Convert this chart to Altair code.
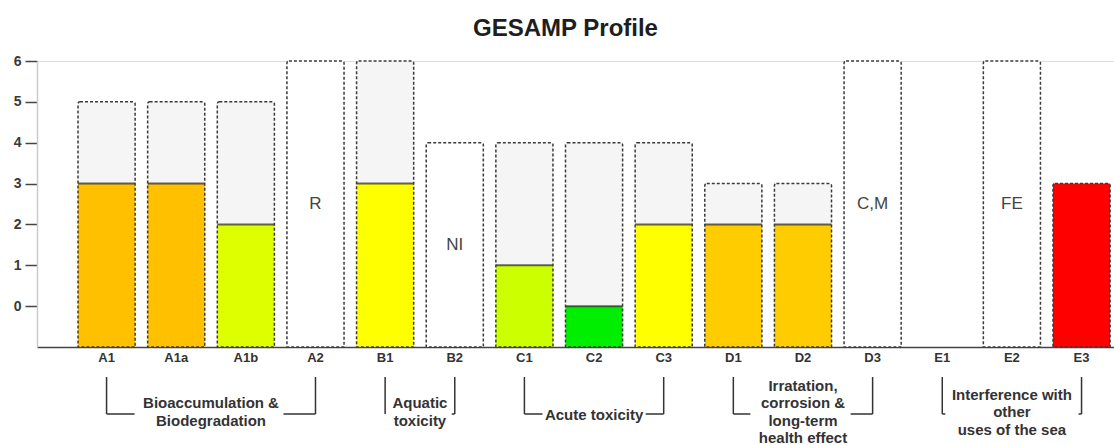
import altair as alt
import pandas as pd

# ---------------- data ----------------
categories = ["A1", "A1a", "A1b", "A2", "B1", "B2", "C1", "C2", "C3",
              "D1", "D2", "D3", "E1", "E2", "E3"]
max_scores = [5, 5, 5, 6, 6, 4, 4, 4, 4, 3, 3, 6, None, 6, 3]
scores = [3, 3, 2, None, 3, None, 1, 0, 2, 2, 2, None, None, None, 3]
bar_labels = ["", "", "", "R", "", "NI", "", "", "", "", "", "C,M", "", "FE", ""]
bar_colors = ["#FFC000", "#FFC000", "#DDFF00", "#FFFFFF", "#FFFF00", "#FFFFFF",
              "#CCFF00", "#00EE00", "#FFFF00", "#FFCC00", "#FFCC00", "#FFFFFF",
              "#FFFFFF", "#FFFFFF", "#FF0000"]
y_floor = -1
y_ticks = [0, 1, 2, 3, 4, 5, 6]

group_labels = ["Bioaccumulation &\nBiodegradation",
                "Aquatic\ntoxicity",
                "Acute toxicity",
                "Irratation,\ncorrosion &\nlong-term\nhealth effect",
                "Interference with\nother\nuses of the sea"]
group_first = ["A1", "B1", "C1", "D1", "E1"]
group_last = ["A2", "B2", "C3", "D3", "E3"]

# ---------------- style ----------------
W, H = 1077, 286
PAD_IN, PAD_OUT, ALIGN = 0.18, 0.3225, 0.913
STEP = W / (len(categories) - PAD_IN + 2 * PAD_OUT)
BANDW = STEP * (1 - PAD_IN)
hook_left = [28, 0, 18, 17, 3]
hook_right = [32, 3, 18, 22, 3]
INK = "#333333"
FONT = "Liberation Sans"
LINE_H = 17.5

df = pd.DataFrame({
    "cat": categories,
    "max": max_scores,
    "score": scores,
    "label": bar_labels,
    "color": bar_colors,
})
df["floor"] = y_floor
df["bg"] = ["#FFFFFF" if l else "#F5F5F5" for l in bar_labels]

xscale = alt.Scale(domain=categories, paddingInner=PAD_IN, paddingOuter=PAD_OUT, align=ALIGN)
yscale = alt.Scale(domain=[y_floor, 6], nice=False, zero=False)

xaxis = alt.Axis(title="", labelAngle=0, ticks=False, labelFontWeight="bold",
                 labelFontSize=13, labelColor=INK, domainColor="#444444",
                 domainWidth=1.5, labelPadding=4, grid=False)
yaxis = alt.Axis(title="", values=y_ticks, labelFontWeight="bold", labelFontSize=14,
                 labelColor="#3A3A3A", domainColor="#CCCCCC", domainWidth=1.5,
                 tickColor="#444444", tickSize=12, tickWidth=1.5, labelPadding=4,
                 grid=False)

base = alt.Chart(df).encode(x=alt.X("cat:N", scale=xscale, axis=xaxis))

outer = base.mark_bar(cornerRadiusTopLeft=2, cornerRadiusTopRight=2).encode(
    y=alt.Y("max:Q", scale=yscale, axis=yaxis),
    y2="floor:Q",
    fill=alt.Fill("bg:N", scale=None),
)

colored = base.transform_filter("isValid(datum.score)").mark_bar().encode(
    y=alt.Y("score:Q", scale=yscale),
    y2="floor:Q",
    fill=alt.Fill("color:N", scale=None),
)

topline = base.transform_filter(
    "isValid(datum.score) && datum.score < datum.max"
).mark_tick(thickness=2, size=BANDW, color="#222222", orient="horizontal").encode(
    y=alt.Y("score:Q", scale=yscale),
)

border = base.mark_bar(fill="#FFFFFF", fillOpacity=0, stroke="#3A3A3A", strokeWidth=1.5,
                       strokeDash=[3, 2], cornerRadiusTopLeft=2,
                       cornerRadiusTopRight=2).encode(
    y=alt.Y("max:Q", scale=yscale),
    y2="floor:Q",
)

labels = base.transform_filter("datum.label != ''").transform_calculate(
    mid="(datum.max + datum.floor) / 2"
).mark_text(fontSize=17, color="#444444", font=FONT).encode(
    y=alt.Y("mid:Q", scale=yscale),
    text="label:N",
)

layers = [outer, colored, topline, border, labels]

# ---------------- group brackets ----------------
gdf = pd.DataFrame({
    "idx": list(range(len(group_labels))),
    "first": group_first,
    "last": group_last,
    "label": group_labels,
})
Y_TOP, Y_BOT, Y_TXT = 316, 353, 351
for i in range(len(group_labels)):
    i0 = categories.index(group_first[i])
    i1 = categories.index(group_last[i])
    mid = (i0 + i1) / 2
    anchor = categories[int(mid)]
    dx = 0 if mid == int(mid) else STEP / 2
    nlines = group_labels[i].count("\n") + 1
    dy = 3 if nlines == 1 else -(nlines - 1) * LINE_H / 2
    g = alt.Chart(gdf).transform_filter(f"datum.idx == {i}")
    layers.append(g.mark_rule(color=INK, strokeWidth=1.5).encode(
        x=alt.X("first:N", scale=xscale, axis=xaxis),
        y=alt.value(Y_TOP), y2=alt.value(Y_BOT)))
    layers.append(g.mark_rule(color=INK, strokeWidth=1.5).encode(
        x=alt.X("last:N", scale=xscale, axis=xaxis),
        y=alt.value(Y_TOP), y2=alt.value(Y_BOT)))
    if hook_left[i] > 0:
        layers.append(g.mark_rule(color=INK, strokeWidth=1.5, x2Offset=hook_left[i]).encode(
            x=alt.X("first:N", scale=xscale, axis=xaxis),
            x2="first:N", y=alt.value(Y_BOT)))
    if hook_right[i] > 0:
        layers.append(g.mark_rule(color=INK, strokeWidth=1.5, xOffset=-hook_right[i]).encode(
            x=alt.X("last:N", scale=xscale, axis=xaxis),
            x2="last:N", y=alt.value(Y_BOT)))
    layers.append(alt.Chart(pd.DataFrame({"a": [anchor], "label": [group_labels[i]]})).mark_text(
        fontSize=15, fontWeight="bold", color=INK, font=FONT, lineBreak="\n",
        lineHeight=LINE_H, align="center", baseline="middle", dx=dx, dy=dy).encode(
        x=alt.X("a:N", scale=xscale, axis=xaxis),
        y=alt.value(Y_TXT),
        text="label:N"))

chart = alt.layer(*layers).properties(
    width=W, height=H,
    title=alt.TitleParams("GESAMP Profile", fontSize=24, fontWeight="bold",
                          color="#1E1E1E", font=FONT, dx=-10, offset=13, anchor="middle"),
    autosize=alt.AutoSizeParams(type="none"),
    padding={"left": 37, "top": 61, "right": 0, "bottom": 98},
).configure_view(strokeWidth=0).configure(font=FONT, background="#FFFFFF")

chart.save("out.html", embed_options={"renderer": "svg", "actions": False})
